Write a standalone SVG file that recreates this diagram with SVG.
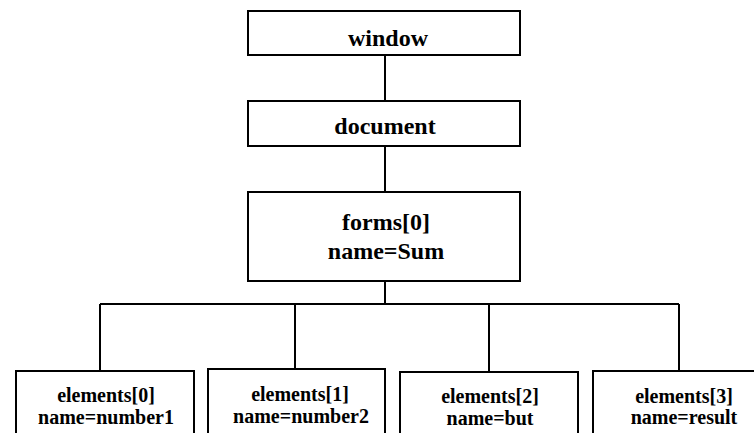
<svg xmlns="http://www.w3.org/2000/svg" width="754" height="433" viewBox="0 0 754 433">
<style>
.box{fill:#fff;stroke:#000;stroke-width:2}
.ln{stroke:#000;stroke-width:2;fill:none}
.t{font-family:"Liberation Serif","Times New Roman",serif;font-weight:bold;fill:#000;text-anchor:middle}
.big{font-size:24px}
.small{font-size:20px}
</style>
<rect width="754" height="433" fill="#fff"/>
<g id="connectors">
<path class="ln" d="M385,55V101M385,146V192M385,281V304M100,304H679M100,304V371M295,304V369M489,304V372M679,304V371"/>
</g>
<g id="window">
<rect class="box" x="248" y="11" width="272" height="44"/>
<text class="t big" x="388" y="46">window</text>
</g>
<g id="document">
<rect class="box" x="248" y="101" width="272" height="45"/>
<text class="t big" x="385" y="134">document</text>
</g>
<g id="forms">
<rect class="box" x="248" y="192" width="272" height="89"/>
<text class="t big" x="386" y="230">forms[0]</text>
<text class="t big" x="386" y="259">name=Sum</text>
</g>
<g id="el0">
<rect class="box" x="16" y="371" width="178" height="80"/>
<text class="t small" x="106" y="402">elements[0]</text>
<text class="t small" x="106" y="424">name=number1</text>
</g>
<g id="el1">
<rect class="box" x="208" y="369" width="177" height="80"/>
<text class="t small" x="300" y="401">elements[1]</text>
<text class="t small" x="301" y="423">name=number2</text>
</g>
<g id="el2">
<rect class="box" x="400" y="372" width="178" height="80"/>
<text class="t small" x="490" y="403">elements[2]</text>
<text class="t small" x="490" y="425">name=but</text>
</g>
<g id="el3">
<rect class="box" x="593" y="371" width="182" height="80"/>
<text class="t small" x="684" y="403">elements[3]</text>
<text class="t small" x="684" y="424">name=result</text>
</g>
</svg>
